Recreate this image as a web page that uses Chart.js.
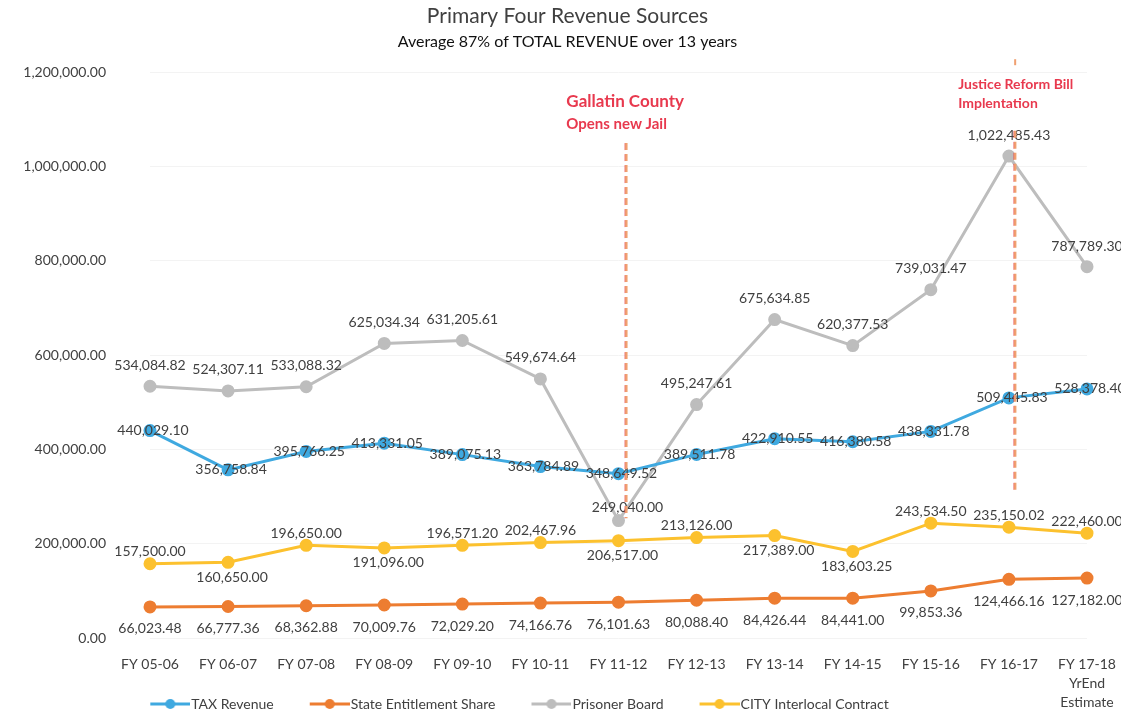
<!DOCTYPE html>
<html>
<head>
<meta charset="utf-8">
<script src="https://cdn.jsdelivr.net/npm/chart.js@4.4.1/dist/chart.umd.min.js"></script>
<style>
  html, body { margin: 0; padding: 0; background: #fff; }
  #wrap { width: 1121px; height: 717px; }
</style>
</head>
<body>
<div id="wrap"><canvas id="revenueChart"></canvas></div>
<script>
const years = ['FY 05-06', 'FY 06-07', 'FY 07-08', 'FY 08-09', 'FY 09-10', 'FY 10-11', 'FY 11-12',
  'FY 12-13', 'FY 13-14', 'FY 14-15', 'FY 15-16', 'FY 16-17', ['FY 17-18', 'YrEnd', 'Estimate']];

const taxRevenue = [440029.10, 356758.84, 395766.25, 413331.05, 389075.13, 363784.89, 348649.52,
  389511.78, 422910.55, 416380.58, 438331.78, 509445.83, 528378.40];
const stateShare = [66023.48, 66777.36, 68362.88, 70009.76, 72029.20, 74166.76, 76101.63,
  80088.40, 84426.44, 84441.00, 99853.36, 124466.16, 127182.00];
const prisonerBoard = [534084.82, 524307.11, 533088.32, 625034.34, 631205.61, 549674.64, 249040.00,
  495247.61, 675634.85, 620377.53, 739031.47, 1022485.43, 787789.30];
const cityContract = [157500.00, 160650.00, 196650.00, 191096.00, 196571.20, 202467.96, 206517.00,
  213126.00, 217389.00, 183603.25, 243534.50, 235150.02, 222460.00];

const yTicks = [0, 200000, 400000, 600000, 800000, 1000000, 1200000];

// event markers: where they sit on the x axis and the text above them
const eventNames = [['Gallatin County', 'Opens new Jail'], ['Justice Reform Bill', 'Implentation']];
const eventAt = [6.1, 11.08];

const FONT = 'Lato, "Open Sans", sans-serif';
const TEXT = '#404040';

function money(v) {
    return v.toLocaleString('en-US', { minimumFractionDigits: 2, maximumFractionDigits: 2 });
}

// legend icon: short line with a dot, drawn in the right part of a wider canvas
function legendIcon(color) {
    const c = document.createElement('canvas');
    c.width = 68; c.height = 12;
    const g = c.getContext('2d');
    g.strokeStyle = color;
    g.lineWidth = 3;
    g.beginPath(); g.moveTo(28, 6); g.lineTo(68, 6); g.stroke();
    g.fillStyle = color;
    g.beginPath(); g.arc(48, 6, 5, 0, Math.PI * 2); g.fill();
    return c;
}

// where each label goes relative to its point
const labelPlace = {
    tax: (i) => ({ dx: 3, dy: 0 }),
    state: (i) => ({ dx: 0, dy: 22 }),
    prisoner: (i) => {
        if (i === 6) return { dx: 9, dy: -13 };
        if (i === 12) return { dx: 0, dy: -20 };
        return { dx: 0, dy: -21 };
    },
    city: (i) => {
        const below = [1, 3, 6, 8, 9];
        return below.includes(i) ? { dx: 4, dy: 15 } : { dx: 0, dy: -12 };
    }
};

const dataLabels = {
    id: 'dataLabels',
    afterDatasetsDraw(chart) {
        const ctx = chart.ctx;
        ctx.save();
        ctx.font = '14px ' + FONT;
        ctx.fillStyle = TEXT;
        ctx.textAlign = 'center';
        ctx.textBaseline = 'middle';
        chart.data.datasets.forEach((ds, di) => {
            const meta = chart.getDatasetMeta(di);
            meta.data.forEach((pt, i) => {
                const p = labelPlace[ds.key](i);
                ctx.fillText(money(ds.data[i]), pt.x + p.dx, pt.y + p.dy);
            });
        });
        ctx.restore();
    }
};

const eventLines = {
    id: 'eventLines',
    afterDatasetsDraw(chart) {
        const ctx = chart.ctx;
        const x = chart.scales.x, y = chart.scales.y;
        const spans = [[1050000, 254000], [1076000, 307000]];
        const textY = [[1138000, 1091000], [1174000, 1134000]];
        const textLeft = [60, 57];
        const fonts = [['bold 17px ', 'bold 15px '], ['bold 14px ', 'bold 14px ']];
        ctx.save();
        eventAt.forEach((at, k) => {
            const px = x.getPixelForValue(at);
            ctx.strokeStyle = '#f0a070';
            ctx.lineWidth = 2.5;
            ctx.setLineDash([7, 4]);
            ctx.beginPath();
            ctx.moveTo(px, y.getPixelForValue(spans[k][0]));
            ctx.lineTo(px, y.getPixelForValue(spans[k][1]));
            ctx.stroke();
            ctx.strokeStyle = 'rgba(230,60,70,0.5)';
            ctx.lineWidth = 1;
            ctx.beginPath();
            ctx.moveTo(px - 1.5, y.getPixelForValue(spans[k][0]));
            ctx.lineTo(px - 1.5, y.getPixelForValue(spans[k][1]));
            ctx.stroke();
            ctx.setLineDash([]);
            ctx.fillStyle = '#e8394e';
            ctx.textAlign = 'left';
            ctx.textBaseline = 'middle';
            ctx.font = fonts[k][0] + FONT;
            ctx.fillText(eventNames[k][0], px - textLeft[k], y.getPixelForValue(textY[k][0]));
            ctx.font = fonts[k][1] + FONT;
            ctx.fillText(eventNames[k][1], px - textLeft[k], y.getPixelForValue(textY[k][1]));
            if (k === 1) {
                ctx.fillStyle = '#f0a070';
                ctx.fillRect(px - 1, y.getPixelForValue(1228000), 2, 6);
            }
        });
        ctx.restore();
    }
};

// nudge the title block right and the legend left, as in the original
const boxShift = {
    id: 'boxShift',
    afterLayout(chart) {
        chart.boxes.forEach(b => {
            if (b.options && typeof b.options.text === 'string') {
                b.left += 24;
                b.right += 24;
            }
        });
        chart.legend.right = chart.legend.right - 70;
    }
};

function series(label, key, data, color) {
    return {
        label: label,
        key: key,
        data: data,
        borderColor: color,
        backgroundColor: color,
        pointBackgroundColor: color,
        pointBorderColor: color,
        borderWidth: 3,
        pointRadius: 5,
        tension: 0
    };
}

const ctx = document.getElementById('revenueChart').getContext('2d');
const revenueChart = new Chart(ctx, {
    type: 'line',
    data: {
        labels: years,
        datasets: [
            series('TAX Revenue', 'tax', taxRevenue, '#3fa9e0'),
            series('State Entitlement Share', 'state', stateShare, '#ed7d31'),
            series('Prisoner Board', 'prisoner', prisonerBoard, '#bdbdbd'),
            series('CITY Interlocal Contract', 'city', cityContract, '#fcc12e')
        ]
    },
    options: {
        responsive: true,
        maintainAspectRatio: false,
        animation: false,
        layout: { padding: { top: 4, right: 34, bottom: -4, left: 0 } },
        plugins: {
            title: {
                display: true,
                text: 'Primary Four Revenue Sources',
                color: TEXT,
                font: { family: FONT, size: 21, weight: 'normal' },
                padding: { top: 0, bottom: 3 }
            },
            subtitle: {
                display: true,
                text: 'Average 87% of TOTAL REVENUE over 13 years',
                color: '#111',
                font: { family: FONT, size: 16 },
                padding: { top: 0, bottom: 21 }
            },
            legend: {
                position: 'bottom',
                labels: {
                    usePointStyle: true,
                    pointStyleWidth: 56,
                    color: TEXT,
                    font: { family: FONT, size: 14 },
                    padding: 14,
                    generateLabels: (chart) => {
                        const items = Chart.defaults.plugins.legend.labels.generateLabels(chart);
                        items.forEach(it => {
                            it.pointStyle = legendIcon(chart.data.datasets[it.datasetIndex].borderColor);
                        });
                        return items;
                    }
                }
            },
            tooltip: { enabled: false }
        },
        scales: {
            x: {
                grid: { display: false },
                border: { display: false },
                afterFit: (s) => {
                    s.height = 45;
                    s.paddingLeft = 0;
                    s.paddingRight = 0;
                    s._computeLabelArea = () => null;
                },
                ticks: {
                    color: TEXT,
                    font: { family: FONT, size: 14, lineHeight: 1.35 },
                    padding: 9,
                    maxRotation: 0,
                    autoSkip: false
                }
            },
            y: {
                min: 0,
                max: 1200000,
                afterBuildTicks: (s) => { s.ticks = yTicks.map(v => ({ value: v })); },
                afterFit: (s) => { s.width = 150; },
                grid: { color: '#f3f3f3', drawTicks: false },
                border: { display: false },
                ticks: {
                    color: TEXT,
                    font: { family: FONT, size: 14 },
                    padding: 44,
                    callback: (v) => money(v)
                }
            }
        }
    },
    plugins: [dataLabels, eventLines, boxShift]
});
</script>
</body>
</html>
